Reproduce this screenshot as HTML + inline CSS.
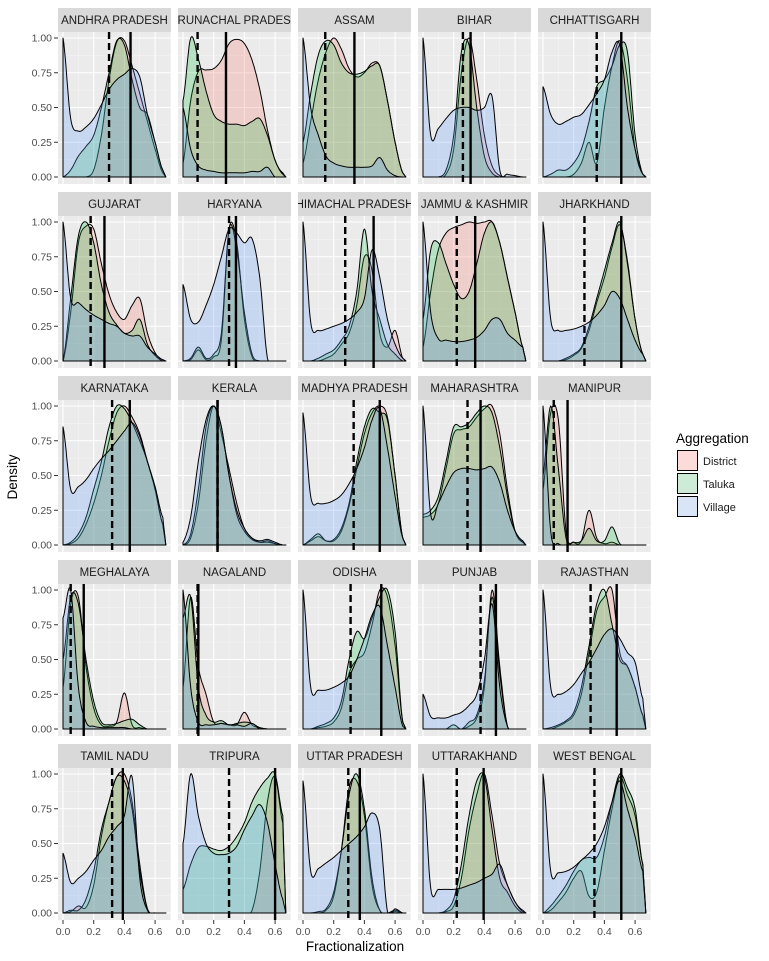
<!DOCTYPE html>
<html><head><meta charset="utf-8"><style>
body{margin:0;background:#fff;}
svg{display:block;font-family:"Liberation Sans",sans-serif;}
</style></head><body>
<svg id="chart" width="769" height="961" viewBox="0 0 769 961"></svg>
<script>
const states=["ANDHRA PRADESH","ARUNACHAL PRADESH","ASSAM","BIHAR","CHHATTISGARH","GUJARAT","HARYANA","HIMACHAL PRADESH","JAMMU & KASHMIR","JHARKHAND","KARNATAKA","KERALA","MADHYA PRADESH","MAHARASHTRA","MANIPUR","MEGHALAYA","NAGALAND","ODISHA","PUNJAB","RAJASTHAN","TAMIL NADU","TRIPURA","UTTAR PRADESH","UTTARAKHAND","WEST BENGAL"];
const seriesNames=["District","Taluka","Village"];
const gridX=[0,0.05,0.1,0.15,0.2,0.25,0.3,0.35,0.4,0.45,0.5,0.55,0.6,0.65];
const xTicks=[0,0.2,0.4,0.6];
const xTickLabels=["0.0","0.2","0.4","0.6"];
const yTicks=[0,0.25,0.5,0.75,1];
const yTickLabels=["0.00","0.25","0.50","0.75","1.00"];
const dashedMean=[0.30,0.095,0.145,0.26,0.35,0.18,0.30,0.275,0.22,0.27,0.32,0.225,0.33,0.29,0.07,0.05,0.095,0.31,0.375,0.31,0.32,0.30,0.295,0.22,0.335];
const solidMean=[0.44,0.28,0.335,0.31,0.51,0.27,0.345,0.46,0.34,0.51,0.435,0.225,0.50,0.375,0.16,0.135,0.10,0.51,0.475,0.48,0.39,0.60,0.37,0.395,0.51];
const districtDensity=[
[0,0,0,0,0.05,0.3,0.7,0.97,0.98,0.8,0.6,0.4,0.2,0.03],
[0.1,0.55,0.76,0.77,0.78,0.84,0.96,0.99,0.96,0.84,0.63,0.34,0.12,0.03],
[0.1,0.4,0.7,0.9,1.0,0.92,0.78,0.72,0.75,0.82,0.80,0.55,0.25,0.03],
[0,0,0,0.02,0.2,0.75,1.0,0.7,0.3,0.08,0.01,0,0,0],
[0,0,0,0,0.02,0.1,0.25,0.1,0.5,0.8,0.98,0.7,0.2,0.02],
[0,0.35,0.85,0.97,0.95,0.7,0.48,0.35,0.3,0.4,0.45,0.2,0.06,0],
[0,0.01,0.08,0.01,0.03,0.15,0.95,0.85,0.3,0.03,0,0,0,0],
[0,0,0,0.02,0.05,0.12,0.2,0.4,0.75,0.65,0.2,0.1,0.22,0.02],
[0.1,0.5,0.8,0.92,0.96,0.98,1.0,0.99,1.0,1.0,0.85,0.6,0.35,0.1],
[0,0,0,0.01,0.04,0.09,0.22,0.42,0.6,0.82,0.98,0.72,0.3,0.05],
[0,0.01,0.05,0.15,0.3,0.5,0.75,0.95,1.0,0.92,0.8,0.6,0.4,0.15],
[0,0.05,0.3,0.75,1.0,0.8,0.55,0.3,0.12,0.05,0.02,0.02,0.01,0],
[0,0.03,0.06,0.03,0.03,0.1,0.28,0.55,0.8,0.95,1.0,0.92,0.5,0.05],
[0.2,0.22,0.3,0.55,0.8,0.83,0.85,0.92,0.98,1.0,0.8,0.4,0.1,0.02],
[0.4,0.95,0.9,0.1,0.02,0.03,0.25,0.05,0.01,0.02,0,0,0,0],
[0.3,0.9,0.95,0.45,0.15,0.03,0.02,0.05,0.26,0.03,0.01,0,0,0],
[0.3,0.95,0.45,0.25,0.05,0.04,0.03,0.03,0.12,0.03,0.01,0,0,0],
[0,0,0.01,0.02,0.05,0.15,0.4,0.5,0.55,0.75,1.0,0.95,0.6,0.05],
[0,0,0,0,0,0,0.02,0.08,0.3,1.0,0.45,0.02,0,0],
[0,0,0.02,0.05,0.1,0.25,0.55,0.85,0.95,1.0,0.55,0.45,0.3,0.1],
[0,0.01,0.05,0.04,0.2,0.55,0.8,0.98,1.0,0.8,0.35,0.03,0,0],
[0,0,0,0,0,0,0,0,0,0.02,0.3,0.8,0.98,0.65],
[0,0,0,0.02,0.12,0.45,0.9,0.95,0.7,0.2,0.02,0,0.01,0],
[0,0,0,0.01,0.05,0.25,0.6,0.85,1.0,0.7,0.35,0.2,0.08,0.01],
[0,0.02,0.08,0.15,0.25,0.3,0.12,0.15,0.45,0.75,0.98,0.85,0.7,0.35]];
const talukaDensity=[
[0,0.05,0.15,0.22,0.3,0.5,0.75,0.98,0.95,0.7,0.5,0.45,0.25,0.05],
[0.55,1.0,0.85,0.62,0.45,0.40,0.38,0.38,0.37,0.40,0.42,0.30,0.12,0.02],
[0.25,0.6,0.88,0.98,0.95,0.82,0.75,0.74,0.76,0.80,0.80,0.55,0.25,0.03],
[0,0,0,0.05,0.3,0.9,0.95,0.5,0.15,0.03,0,0,0,0],
[0,0.02,0.05,0.05,0.1,0.2,0.4,0.65,0.7,0.8,0.95,0.9,0.3,0.02],
[0,0.45,0.9,1.0,0.85,0.55,0.35,0.26,0.2,0.22,0.3,0.12,0.04,0],
[0,0.02,0.1,0.02,0.05,0.2,0.95,0.8,0.35,0.05,0,0,0,0],
[0,0,0.02,0.05,0.08,0.15,0.25,0.5,0.95,0.5,0.3,0.12,0.05,0],
[0.3,0.8,0.85,0.7,0.55,0.45,0.5,0.7,0.92,1.0,0.85,0.6,0.35,0.1],
[0,0,0,0.02,0.05,0.1,0.25,0.45,0.65,0.85,1.0,0.7,0.3,0.05],
[0,0.02,0.08,0.2,0.4,0.6,0.85,1.0,0.98,0.88,0.75,0.6,0.4,0.15],
[0,0.08,0.4,0.85,1.0,0.85,0.5,0.22,0.1,0.04,0.02,0.03,0.01,0],
[0,0.04,0.08,0.03,0.04,0.12,0.3,0.6,0.85,0.98,0.95,0.9,0.5,0.05],
[0.22,0.25,0.35,0.6,0.85,0.85,0.88,0.95,1.0,0.95,0.7,0.35,0.1,0.02],
[0.5,1.0,0.55,0.05,0.02,0.03,0.12,0.03,0.03,0.13,0.01,0,0,0],
[0.5,0.95,0.9,0.5,0.2,0.05,0.03,0.04,0.06,0.07,0.03,0,0,0],
[0.8,0.95,0.3,0.1,0.05,0.06,0.03,0.04,0.05,0.04,0.01,0,0,0],
[0,0,0.02,0.04,0.08,0.2,0.5,0.7,0.65,0.8,0.95,1.0,0.7,0.05],
[0,0,0,0,0.03,0,0.05,0.1,0.35,0.95,0.4,0.02,0,0],
[0,0.01,0.03,0.06,0.12,0.3,0.6,0.9,1.0,0.75,0.5,0.45,0.3,0.1],
[0,0.02,0.02,0.1,0.3,0.6,0.8,0.98,0.95,0.75,0.3,0.03,0,0],
[0.17,0.35,0.47,0.48,0.46,0.45,0.48,0.55,0.65,0.8,0.9,0.97,1.0,0.7],
[0,0,0.01,0.03,0.15,0.45,0.85,1.0,0.75,0.25,0.02,0,0.02,0],
[0,0,0,0.02,0.1,0.35,0.7,0.95,0.98,0.6,0.25,0.15,0.05,0],
[0,0.05,0.12,0.2,0.3,0.38,0.4,0.4,0.55,0.8,1.0,0.9,0.75,0.35]];
const villageDensity=[
[1.0,0.42,0.33,0.36,0.42,0.52,0.63,0.70,0.74,0.78,0.72,0.45,0.25,0.05],
[0.5,0.2,0.08,0.05,0.04,0.03,0.03,0.03,0.03,0.04,0.04,0.07,0,0],
[1.0,0.5,0.3,0.15,0.1,0.08,0.07,0.07,0.07,0.08,0.14,0.05,0.01,0],
[1.0,0.3,0.35,0.42,0.48,0.5,0.5,0.48,0.5,0.58,0.05,0.02,0.01,0],
[0.65,0.45,0.38,0.4,0.43,0.45,0.52,0.6,0.7,0.9,0.95,0.5,0.2,0.02],
[1.0,0.45,0.42,0.37,0.33,0.3,0.27,0.25,0.2,0.18,0.18,0.1,0.05,0.01],
[0.55,0.3,0.28,0.4,0.55,0.75,0.95,0.92,0.85,0.88,0.6,0.02,0,0],
[1.0,0.28,0.22,0.23,0.25,0.27,0.3,0.35,0.45,0.8,0.6,0.3,0.12,0.02],
[1.0,0.35,0.16,0.15,0.14,0.14,0.15,0.17,0.22,0.3,0.3,0.2,0.15,0.1],
[1.0,0.3,0.22,0.22,0.23,0.25,0.28,0.33,0.4,0.5,0.45,0.3,0.15,0.05],
[0.85,0.4,0.42,0.47,0.55,0.62,0.68,0.75,0.82,0.88,0.78,0.6,0.42,0.2],
[0.02,0.2,0.6,0.9,1.0,0.85,0.5,0.25,0.12,0.05,0.03,0.04,0.02,0],
[0.95,0.35,0.3,0.3,0.32,0.36,0.44,0.55,0.7,0.9,0.98,0.7,0.35,0.05],
[1.0,0.22,0.3,0.42,0.52,0.55,0.55,0.54,0.55,0.56,0.45,0.25,0.1,0.03],
[1.0,0.1,0.01,0,0,0,0,0,0,0,0,0,0,0],
[0.8,1.0,0.3,0.05,0.02,0.01,0.01,0.01,0.01,0,0,0,0,0],
[1.0,0.3,0.05,0.03,0.03,0.04,0.03,0.03,0.02,0.04,0,0,0,0],
[1.0,0.3,0.28,0.28,0.3,0.33,0.38,0.5,0.65,0.82,0.88,0.6,0.3,0.02],
[0.25,0.09,0.08,0.08,0.1,0.12,0.17,0.25,0.5,0.9,0.3,0.02,0,0],
[1.0,0.3,0.25,0.27,0.32,0.4,0.48,0.58,0.68,0.72,0.65,0.55,0.48,0.22],
[0.43,0.22,0.25,0.3,0.38,0.45,0.55,0.62,0.7,0.98,0.25,0.02,0,0],
[0.5,1.0,0.7,0.5,0.43,0.42,0.43,0.48,0.6,0.7,0.78,0.65,0.35,0.1],
[0.95,0.3,0.32,0.36,0.4,0.45,0.5,0.55,0.62,0.72,0.6,0.01,0.03,0],
[1.0,0.18,0.17,0.17,0.17,0.18,0.2,0.22,0.25,0.28,0.35,0.2,0.08,0.02],
[1.0,0.3,0.29,0.3,0.33,0.38,0.43,0.5,0.62,0.8,0.95,0.75,0.55,0.3]];

const NS="http://www.w3.org/2000/svg";
const svg=document.getElementById('chart');
function mk(tag,attrs,parent){const e=document.createElementNS(NS,tag);for(const k in attrs)e.setAttribute(k,attrs[k]);(parent||svg).appendChild(e);return e;}
const fills=["rgba(248,118,109,0.25)","rgba(0,186,56,0.22)","rgba(97,156,255,0.25)"];
const PW=113,PH=152,X0=58,Y0=8,DX=120,DY=184,STRIP=24;
function xScale(c,v){return X0+DX*c+5+v*153.5;}
function yScale(r,v){return Y0+DY*r+STRIP+6+(1-v)*139;}
function interp(ys,t){
  const step=gridX[1]-gridX[0];let f=t/step;let i=Math.floor(f);if(i>=ys.length-1)return ys[ys.length-1];
  const u=f-i;const p0=ys[Math.max(0,i-1)],p1=ys[i],p2=ys[i+1],p3=ys[Math.min(ys.length-1,i+2)];
  const v=0.5*((2*p1)+(-p0+p2)*u+(2*p0-5*p1+4*p2-p3)*u*u+(-p0+3*p1-3*p2+p3)*u*u*u);
  return Math.max(0,v);
}
const defs=mk('defs',{});
states.forEach((name,i)=>{
  const r=Math.floor(i/5),c=i%5;
  const px=X0+DX*c,sy=Y0+DY*r,py=sy+STRIP;
  const g=mk('g',{});
  
  
  const cp=mk('clipPath',{id:'cp'+i},defs);mk('rect',{x:px,y:sy,width:PW,height:STRIP+PH},cp);
  const strip=mk('rect',{x:px,y:sy,width:PW,height:STRIP,fill:'#D9D9D9'},g);
  
  const st=mk('text',{x:px+PW/2,y:sy+16,'text-anchor':'middle','font-size':'11.5','fill':'#1a1a1a','clip-path':'url(#cp'+i+')'},g);
  st.textContent=name;
  const bg=mk('rect',{x:px,y:py,width:PW,height:PH,fill:'#EBEBEB'},g);
  
  const inner=mk('g',{'clip-path':'url(#cp'+i+')'},g);
  [0.1,0.3,0.5,0.7].forEach(v=>mk('line',{x1:xScale(c,v),x2:xScale(c,v),y1:py,y2:py+PH,stroke:'#F5F5F5','stroke-width':0.5},inner));
  [0.125,0.375,0.625,0.875].forEach(v=>mk('line',{x1:px,x2:px+PW,y1:yScale(r,v),y2:yScale(r,v),stroke:'#F5F5F5','stroke-width':0.5},inner));
  xTicks.forEach(v=>mk('line',{x1:xScale(c,v),x2:xScale(c,v),y1:py,y2:py+PH,stroke:'#fff','stroke-width':1.1},inner));
  yTicks.forEach(v=>mk('line',{x1:px,x2:px+PW,y1:yScale(r,v),y2:yScale(r,v),stroke:'#fff','stroke-width':1.1},inner));
  [districtDensity,talukaDensity,villageDensity].forEach((arr,s)=>{
    const ys=arr[i];let d='M'+xScale(c,0).toFixed(1)+','+yScale(r,0).toFixed(1);
    const xmax=gridX[gridX.length-1]+0.02;
    for(let t=0;t<=xmax+1e-9;t+=0.005){const v=t<=gridX[gridX.length-1]?interp(ys,t):ys[ys.length-1]*(1-(t-gridX[gridX.length-1])/0.02);d+='L'+xScale(c,t).toFixed(1)+','+yScale(r,Math.max(0,v)).toFixed(1);}
    d+='L'+xScale(c,xmax).toFixed(1)+','+yScale(r,0).toFixed(1)+'Z';
    const p=mk('path',{d:d,fill:fills[s],stroke:'#000','stroke-width':1,'stroke-linejoin':'round'},inner);
    
    
  });
  const dl=mk('line',{x1:xScale(c,dashedMean[i]),x2:xScale(c,dashedMean[i]),y1:py,y2:py+PH,stroke:'#000','stroke-width':2.4,'stroke-dasharray':'7,4'},inner);
  
  const sl=mk('line',{x1:xScale(c,solidMean[i]),x2:xScale(c,solidMean[i]),y1:py,y2:py+PH,stroke:'#000','stroke-width':2.4},inner);
  
  if(c===0){yTicks.forEach((v,k)=>{mk('line',{x1:px-4,x2:px,y1:yScale(r,v),y2:yScale(r,v),stroke:'#333','stroke-width':1},g);
    const t=mk('text',{x:px-6,y:yScale(r,v)+3.5,'text-anchor':'end','font-size':'10.5',fill:'#4d4d4d'},g);t.textContent=yTickLabels[k];
    });}
  if(r===4){xTicks.forEach((v,k)=>{mk('line',{x1:xScale(c,v),x2:xScale(c,v),y1:py+PH,y2:py+PH+4,stroke:'#333','stroke-width':1},g);
    const t=mk('text',{x:xScale(c,v),y:py+PH+15,'text-anchor':'middle','font-size':'10.5',fill:'#4d4d4d'},g);t.textContent=xTickLabels[k];
    });}
});
</script>
<script>
(function(){
const svg=document.getElementById('chart');const NS="http://www.w3.org/2000/svg";
function mk(tag,attrs,parent){const e=document.createElementNS(NS,tag);for(const k in attrs)e.setAttribute(k,attrs[k]);(parent||svg).appendChild(e);return e;}
const xt=mk('text',{x:355,y:951,'text-anchor':'middle','font-size':'13.5',fill:'#000'});xt.textContent='Fractionalization';

const yt=mk('text',{x:0,y:0,'text-anchor':'middle','font-size':'13.5',fill:'#000',transform:'translate(17,477) rotate(-90)'});yt.textContent='Density';

const lg=mk('g',{});
const lt=mk('text',{x:676,y:443,'font-size':'13.5',fill:'#000'},lg);lt.textContent='Aggregation';

const names=["District","Taluka","Village"];const cols=["#FBDCDA","#CDEBD6","#D9E4F7"];
names.forEach((n,k)=>{const e=mk('g',{},lg);
 mk('rect',{x:677,y:450+k*23,width:21,height:21,fill:'#F2F2F2'},e);
 mk('rect',{x:677.5,y:450.5+k*23,width:20,height:20,fill:cols[k],stroke:'#000','stroke-width':1},e);
 const t=mk('text',{x:703,y:465+k*23,'font-size':'11',fill:'#1a1a1a'},e);t.textContent=n;});
})();
</script>
</body></html>
